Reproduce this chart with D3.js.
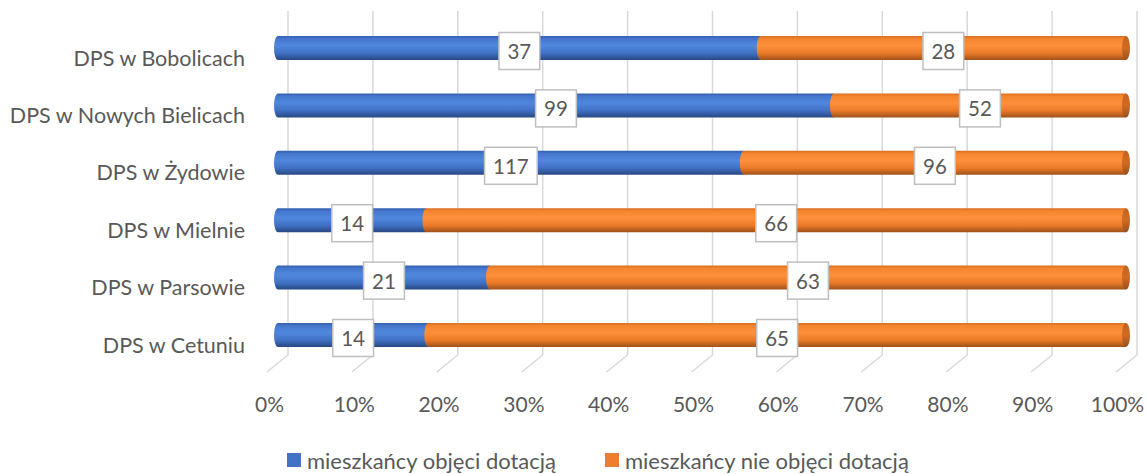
<!DOCTYPE html>
<html>
<head>
<meta charset="utf-8">
<script src="https://cdn.jsdelivr.net/npm/d3@7"></script>
<style>
  html, body { margin: 0; padding: 0; background: #fff; }
  svg { display: block; font-family: Lato, "Open Sans", sans-serif; }
</style>
</head>
<body>
<svg id="chart" width="1147" height="474"></svg>
<script>
const categories = ["DPS w Bobolicach", "DPS w Nowych Bielicach", "DPS w Żydowie", "DPS w Mielnie", "DPS w Parsowie", "DPS w Cetuniu"];
const objeci = [37, 99, 117, 14, 21, 14];
const nieObjeci = [28, 52, 96, 66, 63, 65];
const seriesNames = ["mieszkańcy objęci dotacją", "mieszkańcy nie objęci dotacją"];
const tickValues = [0, 0.1, 0.2, 0.3, 0.4, 0.5, 0.6, 0.7, 0.8, 0.9, 1];

const svg = d3.select("#chart");
const textColor = "#595959";
const fontFam = "Lato, 'Open Sans', sans-serif";

const xGrid = d3.scaleLinear().domain([0, 1]).range([288, 1137]);
const xBar = d3.scaleLinear().domain([0, 1]).range([278, 1126]);
const xTick = d3.scaleLinear().domain([0, 1]).range([269, 1117]);
const yBar = d3.scalePoint().domain(categories).range([48, 335]);
const yLabel = d3.scalePoint().domain(categories).range([57, 344]);
const barH = 24, rx = 4;

// gradients
const defs = svg.append("defs");
function grad(id, stops) {
  const g = defs.append("linearGradient").attr("id", id).attr("x1", 0).attr("y1", 0).attr("x2", 0).attr("y2", 1);
  stops.forEach(s => g.append("stop").attr("offset", s[0]).attr("stop-color", s[1]));
}
grad("gBlue", [[0, "#3360ae"], [0.12, "#4577cc"], [0.4, "#5088df"], [0.72, "#4070c3"], [1, "#274883"]]);
grad("gOrange", [[0, "#d86e22"], [0.12, "#f5862f"], [0.4, "#fe903c"], [0.72, "#ea7a28"], [1, "#a0511a"]]);
grad("gOrangeCap", [[0, "#c4631f"], [0.5, "#d06b24"], [1, "#99501c"]]);

// gridlines (3D wall + floor diagonal)
const grid = svg.append("g");
grid.selectAll("path").data(tickValues).join("path")
  .attr("d", d => `M${xGrid(d)},11 L${xGrid(d)},355 L${xGrid(d) - 21},372`)
  .attr("fill", "none").attr("stroke", "#d9d9d9").attr("stroke-width", 1.5);

// stacked data
const rows = categories.map((c, i) => {
  const tot = objeci[i] + nieObjeci[i];
  return [
    { cat: c, s: 0, v: objeci[i], x0: 0, x1: objeci[i] / tot },
    { cat: c, s: 1, v: nieObjeci[i], x0: objeci[i] / tot, x1: 1 }
  ];
});
const segs = rows.flat();

function segPath(d) {
  const x0 = xBar(d.x0), x1 = xBar(d.x1), y = yBar(d.cat) - barH / 2, h = barH;
  return `M${x0},${y} L${x1},${y} L${x1},${y + h} L${x0},${y + h} A${rx},${h / 2} 0 0 1 ${x0},${y} Z`;
}
const bars = svg.append("g");
[0, 1].forEach(s => {
  const g = bars.append("g");
  const data = segs.filter(d => d.s === s);
  g.selectAll("path.body").data(data).join("path").attr("class", "body")
    .attr("d", segPath)
    .attr("fill", s === 0 ? "url(#gBlue)" : "url(#gOrange)");
  if (s === 1) {
    g.selectAll("ellipse").data(data).join("ellipse")
      .attr("cx", d => xBar(d.x1)).attr("cy", d => yBar(d.cat))
      .attr("rx", rx).attr("ry", barH / 2)
      .attr("fill", "url(#gOrangeCap)");
  }
});

// data labels
const lab = svg.append("g").attr("font-size", 20.5).attr("fill", textColor);
segs.forEach(d => {
  const cx = (xBar(d.x0) + xBar(d.x1)) / 2, cy = yBar(d.cat) + 3;
  const g = lab.append("g");
  const t = g.append("text").attr("x", cx).attr("y", cy).attr("text-anchor", "middle")
    .attr("dominant-baseline", "central").text(d.v);
  const w = t.node().getComputedTextLength() + 17;
  g.insert("rect", "text").attr("x", cx - w / 2).attr("y", cy - 18.5).attr("width", w).attr("height", 37)
    .attr("fill", "#fff").attr("stroke", "#bfbfbf").attr("stroke-width", 1.5);
});

// x tick labels
const xAxis = svg.append("g").attr("transform", "translate(0,403)")
  .call(d3.axisBottom(xTick).tickValues(tickValues).tickSize(0).tickPadding(0).tickFormat(d3.format(".0%")));
xAxis.attr("font-family", fontFam).attr("font-size", 21);
xAxis.select(".domain").remove();
xAxis.selectAll("text").attr("fill", textColor)
  .attr("dy", null).attr("y", 0).attr("dominant-baseline", "central");

// category labels
const yAxis = svg.append("g").attr("transform", "translate(245,0)")
  .call(d3.axisLeft(yLabel).tickSize(0).tickPadding(0));
yAxis.attr("font-family", fontFam).attr("font-size", 21.5);
yAxis.select(".domain").remove();
yAxis.selectAll("text").attr("fill", textColor)
  .attr("dy", null).attr("x", 0).attr("dominant-baseline", "central");

// legend
const legendX = [287, 605];
const legendColors = ["#4472c4", "#ed7d31"];
const leg = svg.append("g");
seriesNames.forEach((n, i) => {
  leg.append("rect").attr("x", legendX[i]).attr("y", 453).attr("width", 14).attr("height", 14).attr("fill", legendColors[i]);
  leg.append("text").attr("x", legendX[i] + 20).attr("y", 460).attr("dominant-baseline", "central")
    .attr("font-size", 22).attr("fill", textColor).text(n);
});
</script>
</body>
</html>
